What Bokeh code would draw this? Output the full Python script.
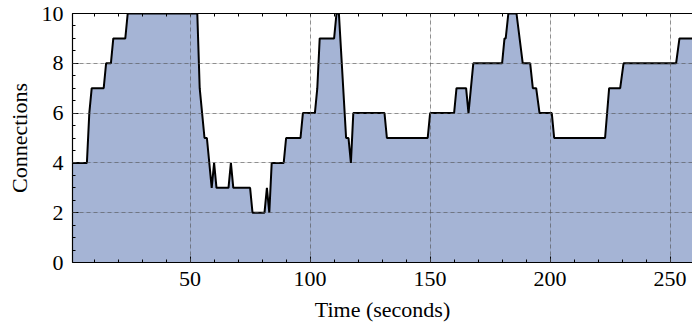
from bokeh.plotting import figure
from bokeh.models import (Range1d, LinearAxis, SingleIntervalTicker, FixedTicker,
                          ColumnDataSource, Grid)
from bokeh.embed import file_html
from bokeh.resources import INLINE

# Time (seconds) breakpoints and number of connections
time_s = [1, 7, 8, 9, 14, 15, 17, 18, 23, 24, 53, 54, 56, 57, 59, 60, 61,
          66, 67, 68, 75, 76, 81, 82, 83, 84, 89, 90, 96, 97, 102, 103, 104,
          110, 111, 112, 115, 116, 117, 118, 131, 132, 149, 150, 160, 161,
          165, 166, 168, 180, 181, 181.5, 182.6, 186, 188.6, 191.7, 192.8,
          194.2, 195.6, 200.7, 201.7, 222.9, 224.6, 229.2, 230.6, 252.5,
          253.9, 260]
connections = [4, 4, 6, 7, 7, 8, 8, 9, 9, 10, 10, 7, 5, 5, 3, 4, 3,
               3, 4, 3, 3, 2, 2, 3, 2, 4, 4, 5, 5, 6, 6, 7, 9,
               9, 10, 10, 5, 5, 4, 6, 6, 5, 5, 6, 6, 7,
               7, 6, 8, 8, 9, 9, 10, 10, 8, 8, 7,
               7, 6, 6, 5, 5, 7, 7, 8, 8,
               9, 9]
baseline = [0] * len(time_s)

x_major = 50
x_minor_step = 10
y_major = 2
top_ticks = list(range(10, 260, x_minor_step))

FONT = "Liberation Serif"
FS = "22px"

src = ColumnDataSource(dict(t=time_s, c=connections, b=baseline))

p = figure(frame_width=620, frame_height=249, output_backend="svg",
           toolbar_location=None, x_axis_location=None, y_axis_location=None,
           x_range=Range1d(1, 1 + 620 / 2.4), y_range=Range1d(0, 10),
           min_border_left=72, min_border_right=0, min_border_top=13,
           min_border_bottom=40)
p.outline_line_color = None
p.background_fill_color = "white"
p.border_fill_color = "white"

p.varea(x="t", y1="b", y2="c", source=src, fill_color="#4c6aac", fill_alpha=0.5)
p.line(x="t", y="c", source=src, line_color="black", line_width=2)

xt = SingleIntervalTicker(interval=x_major, num_minor_ticks=5)
yt = SingleIntervalTicker(interval=y_major, num_minor_ticks=4)


def style(ax):
    ax.axis_line_color = "black"
    ax.axis_line_width = 1.2
    ax.major_tick_in = 6
    ax.major_tick_out = 0
    ax.minor_tick_in = 3
    ax.minor_tick_out = 0
    ax.major_tick_line_color = "black"
    ax.minor_tick_line_color = "black"
    ax.major_label_text_font = FONT
    ax.major_label_text_font_size = FS
    ax.major_label_text_color = "black"
    ax.axis_label_text_font = FONT
    ax.axis_label_text_font_size = FS
    ax.axis_label_text_font_style = "normal"
    ax.axis_label_text_color = "black"


xa = LinearAxis(ticker=xt, axis_label="Time (seconds)")
style(xa)
xa.major_label_standoff = 9
xa.axis_label_standoff = 8
p.add_layout(xa, "below")

ya = LinearAxis(ticker=yt, axis_label="Connections")
style(ya)
ya.major_label_standoff = 9
ya.axis_label_standoff = 7
p.add_layout(ya, "left")

# top spine with inward ticks only (no labels)
ta = LinearAxis(ticker=FixedTicker(ticks=[], minor_ticks=top_ticks))
style(ta)
ta.minor_tick_in = 3
ta.major_label_standoff = 0
p.add_layout(ta, "above")

gx = Grid(dimension=0, ticker=xt, grid_line_color="#555555", grid_line_alpha=0.6,
          grid_line_dash="4 3", grid_line_width=1, level="overlay")
gy = Grid(dimension=1, ticker=yt, grid_line_color="#555555", grid_line_alpha=0.6,
          grid_line_dash="4 3", grid_line_width=1, level="overlay")
p.add_layout(gx)
p.add_layout(gy)

open("out.html", "w").write(file_html(p, INLINE))
